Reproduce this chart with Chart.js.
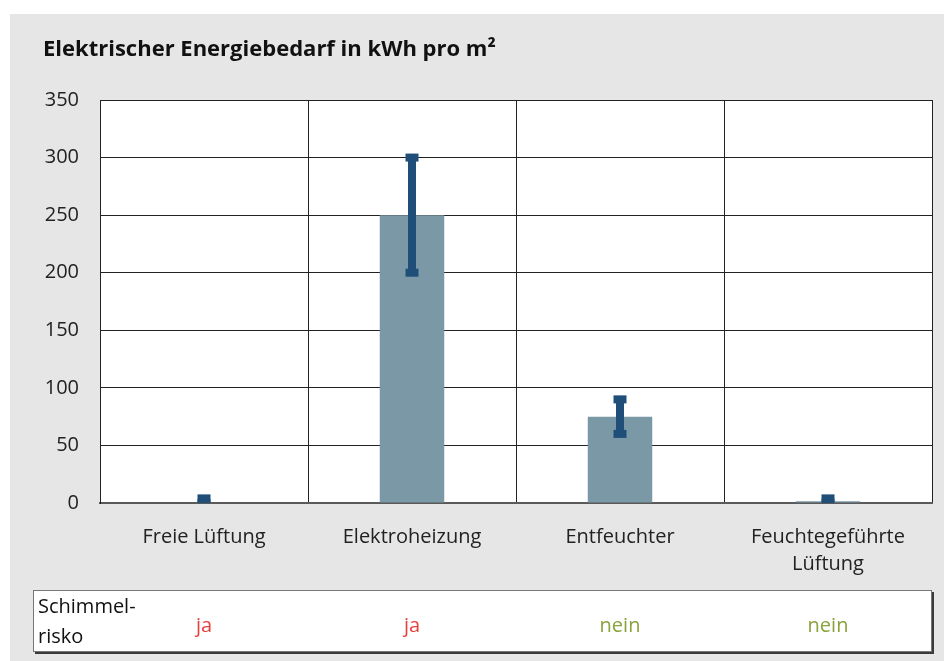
<!DOCTYPE html>
<html lang="de">
<head>
<meta charset="utf-8">
<title>Elektrischer Energiebedarf</title>
<script src="https://cdn.jsdelivr.net/npm/chart.js@4.4.1/dist/chart.umd.min.js"></script>
<style>
  html, body { margin: 0; padding: 0; background: #fff; }
  canvas { display: block; }
</style>
</head>
<body>
<canvas id="energyChart" width="944" height="661"></canvas>
<script>
// Electric energy demand per variant (kWh/m²), with min/max range
const categories = ['Freie Lüftung', 'Elektroheizung', 'Entfeuchter', ['Feuchtegeführte', 'Lüftung']];
const demand = [0, 250, 75, 1.5];
const rangeLow = [0, 200, 60, 0];
const rangeHigh = [4, 300, 90, 4];
const yTicks = [0, 50, 100, 150, 200, 250, 300, 350];
const moldRisk = ['ja', 'ja', 'nein', 'nein'];

const FONT = "'Open Sans', 'Noto Sans', sans-serif";
const BAR_COLOR = '#7b98a6';
const RANGE_COLOR = '#1f4e79';

// Page background, white plot area and heading
const backdrop = {
    id: 'backdrop',
    beforeDraw(chart) {
        const { ctx, chartArea: a } = chart;
        ctx.save();
        ctx.fillStyle = '#ffffff';
        ctx.fillRect(0, 0, chart.width, chart.height);
        ctx.fillStyle = '#e6e6e6';
        ctx.fillRect(10, 14, chart.width - 10, chart.height - 14);
        ctx.fillStyle = '#ffffff';
        ctx.fillRect(a.left, a.top, a.right - a.left, a.bottom - a.top);

        ctx.fillStyle = '#111111';
        ctx.font = 'bold 22px ' + FONT;
        ctx.textBaseline = 'alphabetic';
        ctx.textAlign = 'left';
        ctx.fillText('Elektrischer Energiebedarf in kWh pro m²', 43, 56);
        ctx.restore();
    }
};

// Min/max whiskers on top of the bars
const rangeBars = {
    id: 'rangeBars',
    afterDatasetsDraw(chart) {
        const { ctx, chartArea: a } = chart;
        const y = chart.scales.y;
        const meta = chart.getDatasetMeta(0);
        ctx.save();
        ctx.beginPath();
        ctx.rect(a.left, a.top - 10, a.right - a.left, a.bottom - a.top + 10);
        ctx.clip();
        ctx.fillStyle = RANGE_COLOR;
        meta.data.forEach((bar, i) => {
            const yLo = y.getPixelForValue(rangeLow[i]);
            const yHi = y.getPixelForValue(rangeHigh[i]);
            ctx.fillRect(bar.x - 4, yHi, 8, yLo - yHi);
            ctx.fillRect(bar.x - 6.5, yHi - 4, 13, 8);
            ctx.fillRect(bar.x - 6.5, yLo - 4, 13, 8);
        });
        ctx.restore();
    }
};

// "Schimmelrisko" row below the axis, columns follow the categories
const riskTable = {
    id: 'riskTable',
    afterDraw(chart) {
        const { ctx } = chart;
        const x = chart.scales.x;
        const left = 33, top = 590, right = 932, bottom = 652;
        ctx.save();
        ctx.fillStyle = '#3a3a3a';
        ctx.fillRect(left + 2, top + 2, right - left, bottom - top);
        ctx.fillStyle = '#ffffff';
        ctx.fillRect(left, top, right - left, bottom - top);
        ctx.strokeStyle = '#777777';
        ctx.lineWidth = 1;
        ctx.strokeRect(left + 0.5, top + 0.5, right - left - 1, bottom - top - 1);

        ctx.font = '20px ' + FONT;
        ctx.textBaseline = 'alphabetic';
        ctx.textAlign = 'left';
        ctx.fillStyle = '#111111';
        ctx.fillText('Schimmel-', 38, 613);
        ctx.fillText('risko', 38, 643);

        ctx.textAlign = 'center';
        moldRisk.forEach((txt, i) => {
            ctx.fillStyle = txt === 'ja' ? '#e8413d' : '#8aa23e';
            ctx.fillText(txt, x.getPixelForValue(i), 632);
        });
        ctx.restore();
    }
};

new Chart(document.getElementById('energyChart'), {
    type: 'bar',
    data: {
        labels: categories,
        datasets: [{
            data: demand,
            backgroundColor: BAR_COLOR,
            borderWidth: 0,
            barPercentage: 0.31,
            categoryPercentage: 1
        }]
    },
    options: {
        responsive: false,
        animation: false,
        devicePixelRatio: 1,
        layout: {
            padding: { top: 100, right: 12, left: 0, bottom: 0 }
        },
        scales: {
            x: {
                grid: {
                    offset: true,
                    color: '#222222',
                    lineWidth: 1,
                    drawTicks: false
                },
                border: { display: true, color: '#5a5a5a', width: 2 },
                ticks: {
                    color: '#222222',
                    padding: 21,
                    maxRotation: 0,
                    font: { family: FONT, size: 20, lineHeight: 1.35 }
                },
                afterFit(scale) { scale.height = 158; }
            },
            y: {
                min: 0,
                max: 350,
                afterBuildTicks(scale) {
                    scale.ticks = yTicks.map(v => ({ value: v }));
                },
                grid: {
                    color: ctx => ctx.tick && ctx.tick.value === 0 ? 'rgba(0,0,0,0)' : '#222222',
                    lineWidth: 1,
                    drawTicks: false
                },
                border: { display: true, color: '#222222', width: 1 },
                ticks: {
                    color: '#222222',
                    padding: 21,
                    font: { family: FONT, size: 20 }
                },
                afterFit(scale) { scale.width = 100; }
            }
        },
        plugins: {
            legend: { display: false },
            title: { display: false },
            tooltip: { enabled: false }
        }
    },
    plugins: [backdrop, rangeBars, riskTable]
});
</script>
</body>
</html>
